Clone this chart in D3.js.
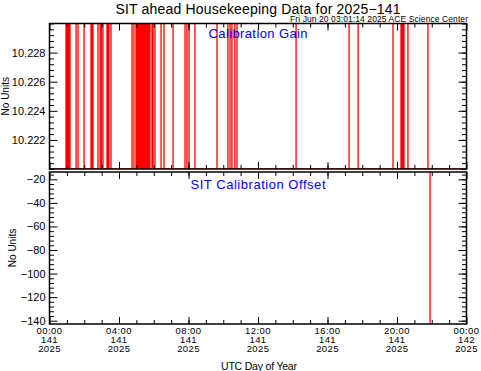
<!DOCTYPE html>
<html lang="en">
  <head>
    <meta charset="UTF-8" />
    <title>SIT ahead Housekeeping Data</title>
    <script src="https://d3js.org/d3.v7.min.js"></script>
    <style>
      body { margin: 0; background: #fff; }
      svg { display: block; background: #fff; }
      text { font-family: "Liberation Sans", Arial, sans-serif; fill: #000; }
      .tick line { stroke: #000; stroke-width: 1; }
    </style>
  </head>
  <body>
    <svg id="chart" width="481" height="371"></svg>

    <script>
      // hours (UTC, day 141) at which the calibration gain jumps off the top
      const gainSpikeHours = [
        0.95, 1.01, 1.06, 1.12, 1.18, 1.53, 1.64, 1.99,
        2.39, 2.45, 2.5, 2.79, 2.91, 2.99, 3.08, 3.31, 3.37, 3.42, 3.54,
        4.75, 4.86, 4.98, 5.04, 5.09, 5.15, 5.21, 5.27, 5.32, 5.38, 5.44,
        5.5, 5.55, 5.61, 5.67, 5.73, 5.78, 5.9, 5.96, 6.07, 6.42, 6.59,
        7.11, 7.8, 7.91, 8.03, 8.37, 9.64, 10.27, 10.39, 10.5, 10.67, 10.79,
        14.19, 17.24, 17.76, 19.77, 20.23, 20.29, 20.35, 20.4, 20.63, 21.78
      ];
      const gainBase = 10.2200;
      const gainPeak = 10.2350;

      const offsetSpikeHours = [21.9];
      const offsetBase = 0;
      const offsetPeak = -150;

      const xTickHours = [0, 4, 8, 12, 16, 20, 24];
      const xTimeLabels = ["00:00", "04:00", "08:00", "12:00", "16:00", "20:00", "00:00"];
      const xDayLabels = ["141", "141", "141", "141", "141", "141", "142"];
      const xYearLabels = ["2025", "2025", "2025", "2025", "2025", "2025", "2025"];

      const gainTicks = [10.222, 10.224, 10.226, 10.228];
      const offsetTicks = [-20, -40, -60, -80, -100, -120, -140];

      const svg = d3.select("#chart");
      const x0 = 49.5, x1 = 466.5;
      const x = d3.scaleLinear().domain([0, 24]).range([x0, x1]);

      const panels = [
        {
          id: "gain", top: 23.5, bottom: 169,
          y: d3.scaleLinear().domain([10.2200, 10.2300]).range([169, 23.5]),
          spikes: gainSpikeHours, base: gainBase, peak: gainPeak,
          major: gainTicks, minor: d3.range(0, 26).map(i => 10.2200 + i * 0.0004),
          fmt: d => d.toFixed(3),
          label: "Calibration Gain", labelY: 37.5, labelW: 99,
          ytitleX: 9
        },
        {
          id: "offset", top: 172, bottom: 324,
          y: d3.scaleLinear().domain([-142.8, -13.8]).range([324, 172]),
          spikes: offsetSpikeHours, base: offsetBase, peak: offsetPeak,
          major: offsetTicks, minor: d3.range(-140, -13, 4),
          fmt: d => String(d).replace("-", "\u2212"),
          label: "SIT Calibration Offset", labelY: 189, labelW: 135,
          ytitleX: 15.5
        }
      ];

      panels.forEach(p => {
        const g = svg.append("g");
        g.append("clipPath").attr("id", "clip-" + p.id)
          .append("rect")
          .attr("x", x0).attr("y", p.top)
          .attr("width", x1 - x0).attr("height", p.bottom - p.top);

        // build series: flat base with up/down excursions at each spike
        const pts = [[0, p.base]];
        p.spikes.forEach(h => { pts.push([h, p.base], [h, p.peak], [h, p.base]); });
        pts.push([24, p.base]);

        const line = d3.line().x(d => x(d[0])).y(d => p.y(d[1]));
        g.append("path")
          .datum(pts)
          .attr("clip-path", `url(#clip-${p.id})`)
          .attr("fill", "none")
          .attr("stroke", "#ff0000")
          .attr("stroke-width", 1.3)
          .attr("d", line);

        // frame
        g.append("rect")
          .attr("x", x0).attr("y", p.top)
          .attr("width", x1 - x0).attr("height", p.bottom - p.top)
          .attr("fill", "none").attr("stroke", "#000").attr("stroke-width", 1.5);

        const noDomain = s => s.select(".domain").remove();

        // y axes
        g.append("g").attr("transform", `translate(${x0},0)`)
          .call(d3.axisLeft(p.y).tickValues(p.major).tickSize(-8).tickPadding(4).tickFormat(p.fmt))
          .call(noDomain)
          .call(s => s.selectAll("text").style("font-size", "11px").style("font-family", "Liberation Sans, Arial, sans-serif"));
        g.append("g").attr("transform", `translate(${x0},0)`)
          .call(d3.axisLeft(p.y).tickValues(p.minor.filter(v => !p.major.includes(+v.toFixed(4)))).tickSize(-4.5).tickFormat(""))
          .call(noDomain);
        g.append("g").attr("transform", `translate(${x1},0)`)
          .call(d3.axisRight(p.y).tickValues(p.major).tickSize(-8).tickFormat(""))
          .call(noDomain);
        g.append("g").attr("transform", `translate(${x1},0)`)
          .call(d3.axisRight(p.y).tickValues(p.minor).tickSize(-4.5).tickFormat(""))
          .call(noDomain);

        // x ticks top and bottom of each panel
        g.append("g").attr("transform", `translate(0,${p.bottom})`)
          .call(d3.axisBottom(x).tickValues(xTickHours).tickSize(-7).tickFormat(""))
          .call(noDomain);
        g.append("g").attr("transform", `translate(0,${p.bottom})`)
          .call(d3.axisBottom(x).tickValues(d3.range(1, 24)).tickSize(-4).tickFormat(""))
          .call(noDomain);
        g.append("g").attr("transform", `translate(0,${p.top})`)
          .call(d3.axisTop(x).tickValues(xTickHours).tickSize(-7).tickFormat(""))
          .call(noDomain);
        g.append("g").attr("transform", `translate(0,${p.top})`)
          .call(d3.axisTop(x).tickValues(d3.range(1, 24)).tickSize(-4).tickFormat(""))
          .call(noDomain);

        // panel label
        g.append("text")
          .attr("x", (x0 + x1) / 2).attr("y", p.labelY)
          .attr("text-anchor", "middle")
          .attr("textLength", p.labelW)
          .style("font-size", "13px").style("fill", "#0000ff")
          .text(p.label);

        // y title
        g.append("text")
          .attr("transform", `translate(${p.ytitleX},${(p.top + p.bottom) / 2}) rotate(-90)`)
          .attr("text-anchor", "middle")
          .style("font-size", "10px")
          .text("No Units");
      });

      // x tick labels under bottom panel
      const xl = svg.append("g").style("font-size", "9.5px").style("letter-spacing", "0.4px");
      xTickHours.forEach((h, i) => {
        const t = xl.append("text").attr("x", x(h)).attr("text-anchor", "middle");
        t.append("tspan").attr("x", x(h)).attr("y", 334.3).text(xTimeLabels[i]);
        t.append("tspan").attr("x", x(h)).attr("y", 342.8).text(xDayLabels[i]);
        t.append("tspan").attr("x", x(h)).attr("y", 351.5).text(xYearLabels[i]);
      });

      svg.append("text")
        .attr("x", 259).attr("y", 369.5)
        .attr("text-anchor", "middle")
        .style("font-size", "10.5px")
        .attr("textLength", 76)
        .text("UTC Day of Year");

      // titles
      svg.append("text")
        .attr("x", 258).attr("y", 13.5)
        .attr("text-anchor", "middle")
        .attr("textLength", 285)
        .style("font-size", "14px")
        .text("SIT ahead Housekeeping Data for 2025\u2212141");

      svg.append("text")
        .attr("x", 468).attr("y", 22)
        .attr("text-anchor", "end")
        .attr("textLength", 178)
        .style("font-size", "8.5px")
        .text("Fri Jun 20 03:01:14 2025 ACE Science Center");
    </script>
  </body>
</html>
